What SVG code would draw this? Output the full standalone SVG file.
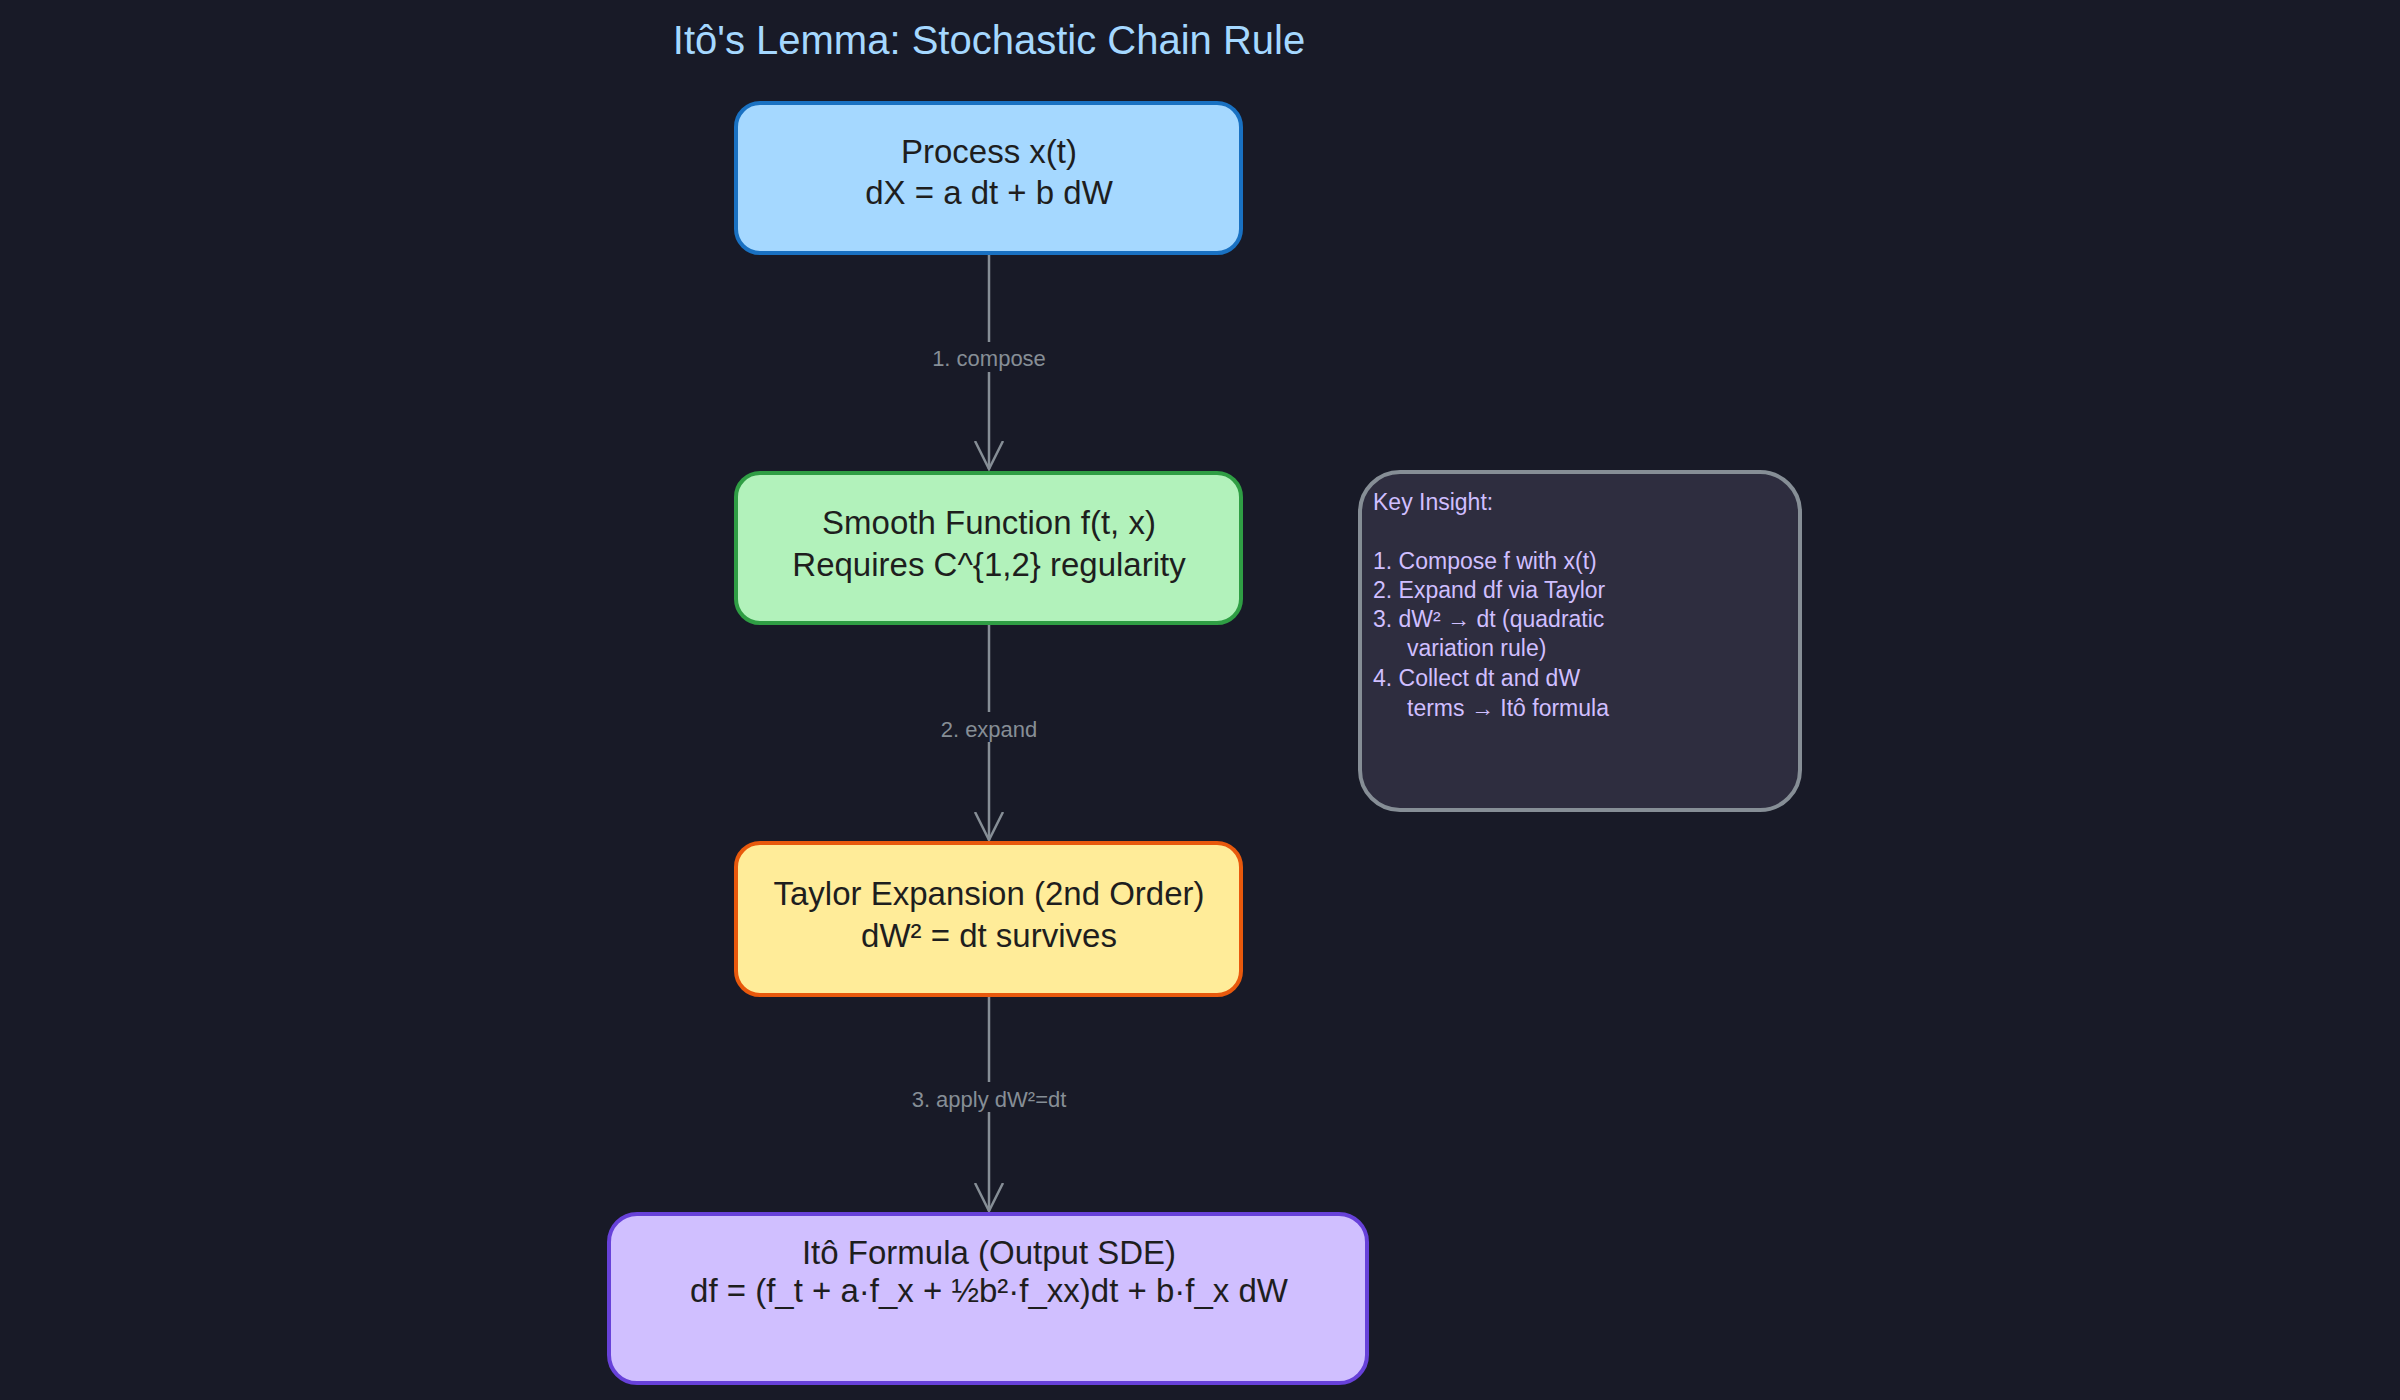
<svg xmlns="http://www.w3.org/2000/svg" width="2400" height="1400" viewBox="0 0 2400 1400">
<defs>
<style>
.n{font-family:"Liberation Sans","Noto Sans",sans-serif;font-size:33px;fill:#1e1e1e;text-anchor:middle}
.lbl{font-family:"Liberation Sans",sans-serif;font-size:22px;fill:#868e96;text-anchor:middle}
.k{font-family:"Liberation Sans",sans-serif;font-size:23px;fill:#d0bfff}
.e{stroke:#868e96;stroke-width:2.5;fill:none}
</style>
<marker id="ah" markerWidth="30" markerHeight="50" refX="28" refY="15" orient="auto" markerUnits="userSpaceOnUse" viewBox="0 0 30 30">
<path d="M0,1 L28,15 L0,29" fill="none" stroke="#868e96" stroke-width="2.5"/>
</marker>
</defs>
<rect width="2400" height="1400" fill="#181a27"/>
<text x="989" y="54" font-family="Liberation Sans,sans-serif" font-size="40" fill="#a5d8ff" text-anchor="middle">Itô's Lemma: Stochastic Chain Rule</text>
<g id="edges">
<path class="e" d="M989,253 V469" marker-end="url(#ah)"/>
<path class="e" d="M989,623 V840" marker-end="url(#ah)"/>
<path class="e" d="M989,995 V1211" marker-end="url(#ah)"/>
<rect x="920" y="342" width="138" height="30" fill="#181a27"/>
<text class="lbl" x="989" y="366">1. compose</text>
<rect x="926" y="712" width="126" height="30" fill="#181a27"/>
<text class="lbl" x="989" y="737">2. expand</text>
<rect x="890" y="1082" width="198" height="30" fill="#181a27"/>
<text class="lbl" x="989" y="1107">3. apply dW²=dt</text>
</g>
<g id="n1">
<rect x="736" y="103" width="505" height="150" rx="24" fill="#a5d8ff" stroke="#1971c2" stroke-width="4"/>
<text class="n" x="989" y="163">Process x(t)</text>
<text class="n" x="989" y="204">dX = a dt + b dW</text>
</g>
<g id="n2">
<rect x="736" y="473" width="505" height="150" rx="24" fill="#b2f2bb" stroke="#2f9e44" stroke-width="4"/>
<text class="n" x="989" y="534">Smooth Function f(t, x)</text>
<text class="n" x="989" y="576">Requires C^{1,2} regularity</text>
</g>
<g id="n3">
<rect x="736" y="843" width="505" height="152" rx="24" fill="#ffec99" stroke="#e8590c" stroke-width="4"/>
<text class="n" x="989" y="905">Taylor Expansion (2nd Order)</text>
<text class="n" x="989" y="947">dW² = dt survives</text>
</g>
<g id="n4">
<rect x="609" y="1214" width="758" height="169" rx="28" fill="#d0bfff" stroke="#6741d9" stroke-width="4"/>
<text class="n" x="989" y="1264">Itô Formula (Output SDE)</text>
<text class="n" x="989" y="1302">df = (f_t + a·f_x + ½b²·f_xx)dt + b·f_x dW</text>
</g>
<g id="note">
<rect x="1360" y="472" width="440" height="338" rx="40" fill="#2e2d3f" stroke="#868e96" stroke-width="4"/>
<text class="k" x="1373" y="510">Key Insight:</text>
<text class="k" x="1373" y="569">1. Compose f with x(t)</text>
<text class="k" x="1373" y="598">2. Expand df via Taylor</text>
<text class="k" x="1373" y="627">3. dW² → dt (quadratic</text>
<text class="k" x="1407" y="656">variation rule)</text>
<text class="k" x="1373" y="686">4. Collect dt and dW</text>
<text class="k" x="1407" y="716">terms → Itô formula</text>
</g>
</svg>
